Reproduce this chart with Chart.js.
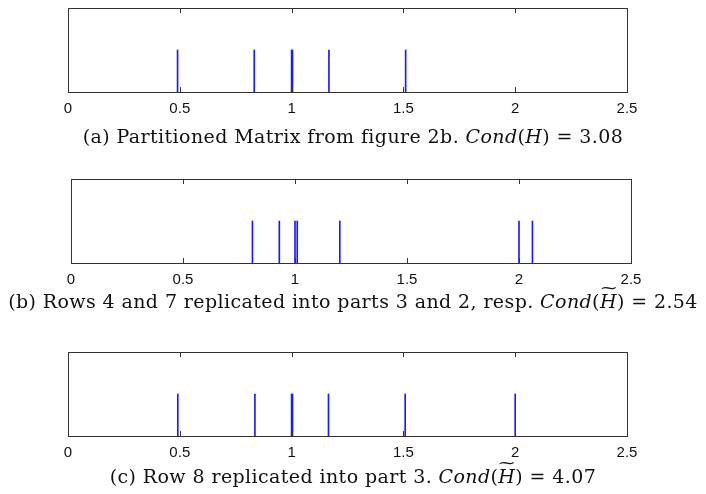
<!DOCTYPE html>
<html>
<head>
<meta charset="utf-8">
<script src="https://cdn.jsdelivr.net/npm/chart.js@4/dist/chart.umd.min.js"></script>
<style>
    body { margin: 0; background: #fff; width: 706px; height: 494px; position: relative; overflow: hidden; }
    .panel { position: absolute; left: 0; width: 706px; height: 126px; }
    .cap { position: absolute; left: 0; width: 706px; text-align: center; font-family: 'DejaVu Serif', serif; font-size: 19px; letter-spacing: 0.4px; color: #111; white-space: nowrap; }
    .tl { position: relative; display: inline-block; }
    .tl .w { position: absolute; left: 1px; right: 0; top: -12px; text-align: center; font-style: normal; font-size: 16px; transform: scaleX(1.4); }
</style>
</head>
<body>
<div class="panel" style="top:0"><canvas id="c1"></canvas></div>
<div class="cap" style="top:125px">(a) Partitioned Matrix from figure 2b. <i>Cond</i>(<i>H</i>) = 3.08</div>
<div class="panel" style="top:171px"><canvas id="c2"></canvas></div>
<div class="cap" style="top:290px">(b) Rows 4 and 7 replicated into parts 3 and 2, resp. <i>Cond</i>(<i class="tl">H<span class="w">~</span></i>) = 2.54</div>
<div class="panel" style="top:344px"><canvas id="c3"></canvas></div>
<div class="cap" style="top:465px">(c) Row 8 replicated into part 3. <i>Cond</i>(<i class="tl">H<span class="w">~</span></i>) = 4.07</div>
<script>
document.addEventListener('DOMContentLoaded', function () {
    // eigenvalues
    const eigA = [0.49, 0.833, 1.0, 1.004, 1.167, 1.51];
    const eigB = [0.81, 0.93, 1.0, 1.01, 1.2, 2.0, 2.06];
    const eigC = [0.491, 0.836, 1.0, 1.004, 1.165, 1.508, 2.0];
    const xTicks = [0, 0.5, 1, 1.5, 2, 2.5];

    // box and inward tick marks, matlab style
    const boxTicks = {
        id: 'boxTicks',
        afterDraw(chart) {
            const ctx = chart.ctx;
            const a = chart.chartArea;
            const sx = chart.scales.x;
            ctx.save();
            ctx.strokeStyle = '#333';
            ctx.lineWidth = 1;
            ctx.strokeRect(Math.round(a.left) + 0.5, Math.round(a.top) + 0.5,
                Math.round(a.right - a.left), Math.round(a.bottom - a.top));
            ctx.beginPath();
            xTicks.forEach(t => {
                const px = Math.round(sx.getPixelForValue(t)) + 0.5;
                ctx.moveTo(px, a.top);
                ctx.lineTo(px, a.top + 5);
                ctx.moveTo(px, a.bottom);
                ctx.lineTo(px, a.bottom - 5);
            });
            ctx.stroke();
            ctx.restore();
        }
    };

    function makeChart(id, values, pad) {
        return new Chart(document.getElementById(id), {
            type: 'bar',
            data: {
                datasets: [{
                    data: values.map(v => ({ x: v, y: 1 })),
                    backgroundColor: '#1a1aff',
                    borderWidth: 0,
                    barThickness: 1,
                }],
            },
            options: {
                responsive: true,
                maintainAspectRatio: false,
                animation: false,
                layout: { padding: pad },
                plugins: { legend: { display: false }, tooltip: { enabled: false } },
                scales: {
                    x: {
                        type: 'linear',
                        offset: false,
                        min: 0,
                        max: 2.5,
                        afterBuildTicks: axis => { axis.ticks = xTicks.map(v => ({ value: v })); },
                        grid: { display: false, drawTicks: false },
                        border: { display: false },
                        ticks: {
                            color: '#111',
                            padding: 8,
                            maxRotation: 0,
                            font: { family: 'Liberation Sans', size: 15 },
                            callback: v => String(v),
                        },
                    },
                    y: { display: false, min: 0, max: 2 },
                },
            },
            plugins: [boxTicks],
        });
    }

    makeChart('c1', eigA, { left: 68, right: 79, top: 8, bottom: 0 });
    makeChart('c2', eigB, { left: 71, right: 75, top: 8, bottom: 0 });
    makeChart('c3', eigC, { left: 68, right: 79, top: 8, bottom: 0 });
});
</script>
</body>
</html>
